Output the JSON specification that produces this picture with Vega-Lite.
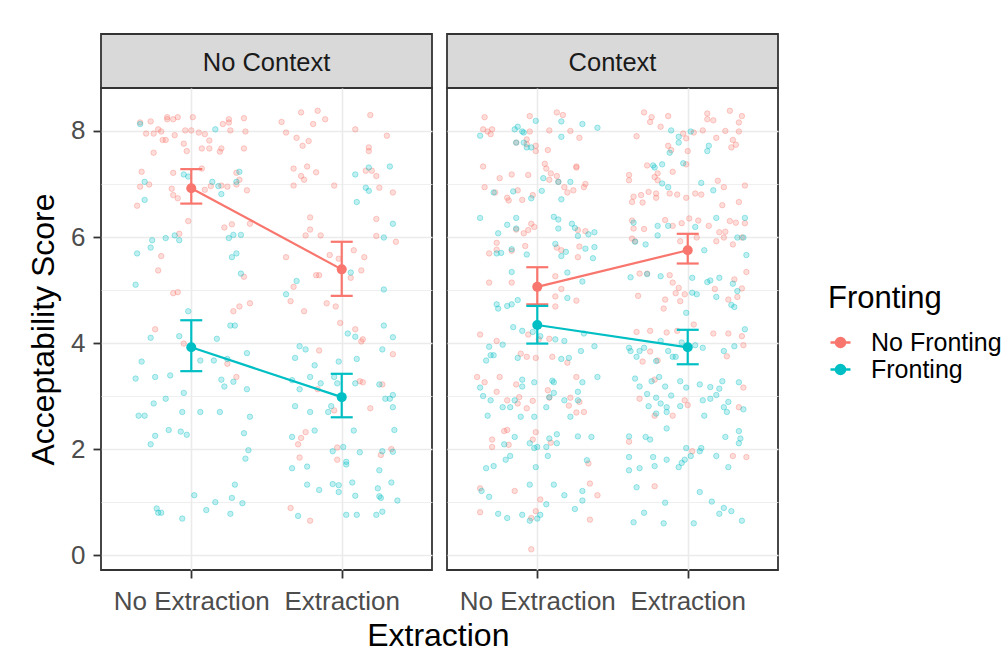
{
  "$schema": "https://vega.github.io/schema/vega-lite/v6.json",
  "padding": {"left": 26, "top": 33, "right": 0, "bottom": 0},
  "background": "white",
  "config": {
    "font": "Liberation Sans",
    "view": {"stroke": "#333333", "strokeWidth": 1.8},
    "axis": {
      "labelFont": "Liberation Sans", "titleFont": "Liberation Sans",
      "labelFontSize": 26, "titleFontSize": 32, "titleFontWeight": "normal",
      "titleColor": "#000000", "labelColor": "#4D4D4D",
      "tickColor": "#333333", "tickWidth": 1.8, "tickSize": 8,
      "domain": false, "gridColor": "#EBEBEB", "gridWidth": 1.6,
      "labelPadding": 8, "labelFlush": false, "labelOverlap": false
    },
    "legend": {"labelFont": "Liberation Sans", "titleFont": "Liberation Sans"},
    "title": {"font": "Liberation Sans"}
  },
  "title": {"text": "Extraction", "orient": "bottom", "anchor": "middle", "fontSize": 32, "fontWeight": "normal", "color": "#000000", "offset": 6, "dx": -76},
  "datasets": {
    "summary": [
      {"context": "No Context", "fronting": "No Fronting", "pos": 1, "mean": 6.92, "lo": 6.63, "hi": 7.28},
      {"context": "No Context", "fronting": "No Fronting", "pos": 2, "mean": 5.39, "lo": 4.89, "hi": 5.91},
      {"context": "No Context", "fronting": "Fronting", "pos": 1, "mean": 3.92, "lo": 3.47, "hi": 4.43},
      {"context": "No Context", "fronting": "Fronting", "pos": 2, "mean": 2.98, "lo": 2.6, "hi": 3.42},
      {"context": "Context", "fronting": "No Fronting", "pos": 1, "mean": 5.06, "lo": 4.73, "hi": 5.43},
      {"context": "Context", "fronting": "No Fronting", "pos": 2, "mean": 5.75, "lo": 5.5, "hi": 6.06},
      {"context": "Context", "fronting": "Fronting", "pos": 1, "mean": 4.34, "lo": 3.99, "hi": 4.7},
      {"context": "Context", "fronting": "Fronting", "pos": 2, "mean": 3.92, "lo": 3.6, "hi": 4.25}
    ],
    "nc_nf": [
      {"pos":0.66,"score":8.16},{"pos":0.73,"score":8.18},{"pos":0.84,"score":8.26},{"pos":0.84,"score":8.22},{"pos":0.88,"score":8.22},{"pos":0.91,"score":8.26},{"pos":1.01,"score":8.26},{"pos":1.25,"score":8.22},{"pos":1.25,"score":8.16},{"pos":1.21,"score":8.13},{"pos":1.35,"score":8.24},{"pos":1.6,"score":8.17},{"pos":1.73,"score":8.35},{"pos":1.81,"score":8.13},{"pos":1.84,"score":8.38},{"pos":1.89,"score":8.22},{"pos":2.19,"score":8.3},{"pos":2.09,"score":8.03},{"pos":2.3,"score":7.91},{"pos":0.7,"score":7.95},{"pos":0.75,"score":7.95},{"pos":0.78,"score":8.03},{"pos":0.8,"score":7.99},{"pos":0.89,"score":7.92},{"pos":0.96,"score":8.01},{"pos":1.0,"score":8.01},{"pos":1.05,"score":7.97},{"pos":1.09,"score":7.94},{"pos":1.26,"score":8.01},{"pos":1.36,"score":7.99},{"pos":1.63,"score":7.97},{"pos":1.7,"score":7.87},{"pos":1.78,"score":7.81},{"pos":1.74,"score":7.72},{"pos":2.18,"score":7.69},{"pos":2.18,"score":7.62},{"pos":0.81,"score":7.83},{"pos":0.83,"score":7.83},{"pos":0.95,"score":7.76},{"pos":0.97,"score":7.62},{"pos":1.07,"score":7.67},{"pos":1.12,"score":7.82},{"pos":1.12,"score":7.67},{"pos":1.19,"score":7.61},{"pos":1.2,"score":7.67},{"pos":1.35,"score":7.67},{"pos":0.75,"score":7.59},{"pos":0.67,"score":7.23},{"pos":0.88,"score":7.21},{"pos":1.07,"score":7.29},{"pos":1.3,"score":7.21},{"pos":1.32,"score":7.08},{"pos":1.68,"score":7.29},{"pos":1.73,"score":7.15},{"pos":1.75,"score":7.08},{"pos":1.83,"score":7.22},{"pos":1.77,"score":7.33},{"pos":2.16,"score":7.25},{"pos":2.2,"score":7.25},{"pos":2.23,"score":7.15},{"pos":0.66,"score":6.95},{"pos":0.72,"score":6.99},{"pos":0.87,"score":6.91},{"pos":0.88,"score":6.79},{"pos":0.91,"score":6.73},{"pos":1.09,"score":6.89},{"pos":1.13,"score":6.96},{"pos":1.2,"score":6.97},{"pos":1.24,"score":6.95},{"pos":1.3,"score":6.99},{"pos":1.37,"score":6.88},{"pos":1.68,"score":6.97},{"pos":1.95,"score":6.97},{"pos":2.25,"score":6.93},{"pos":2.34,"score":6.84},{"pos":0.64,"score":6.59},{"pos":0.98,"score":6.3},{"pos":1.22,"score":6.18},{"pos":1.27,"score":6.24},{"pos":1.39,"score":6.25},{"pos":1.79,"score":6.37},{"pos":1.79,"score":6.14},{"pos":1.76,"score":6.03},{"pos":1.86,"score":6.03},{"pos":2.23,"score":6.34},{"pos":2.23,"score":6.02},{"pos":2.36,"score":5.91},{"pos":2.08,"score":5.75},{"pos":2.15,"score":5.62},{"pos":1.98,"score":5.59},{"pos":1.92,"score":5.66},{"pos":1.63,"score":5.62},{"pos":2.13,"score":5.37},{"pos":2.06,"score":5.23},{"pos":1.83,"score":5.28},{"pos":1.85,"score":5.28},{"pos":1.35,"score":5.25},{"pos":0.8,"score":5.64},{"pos":0.78,"score":5.37},{"pos":0.92,"score":6.06},{"pos":0.88,"score":4.94},{"pos":0.91,"score":4.96},{"pos":1.39,"score":4.75},{"pos":1.32,"score":4.69},{"pos":1.28,"score":4.6},{"pos":1.66,"score":4.79},{"pos":1.68,"score":5.06},{"pos":1.75,"score":4.6},{"pos":1.9,"score":4.75},{"pos":1.96,"score":4.69},{"pos":1.99,"score":4.38},{"pos":2.09,"score":4.26},{"pos":2.14,"score":4.07},{"pos":2.13,"score":4.03},{"pos":0.76,"score":4.26},{"pos":0.95,"score":3.99},{"pos":1.85,"score":3.86},
      {"pos":1.24,"score":3.61},{"pos":1.3,"score":3.36},{"pos":2.34,"score":3.79},{"pos":1.84,"score":3.13},{"pos":2.12,"score":3.28},{"pos":2.14,"score":3.26},{"pos":2.27,"score":3.22},{"pos":2.19,"score":2.77},{"pos":1.95,"score":2.73},{"pos":1.76,"score":2.32},{"pos":1.73,"score":2.21},{"pos":1.71,"score":2.09},{"pos":1.97,"score":2.03},{"pos":1.72,"score":1.84},{"pos":1.97,"score":1.8},{"pos":2.33,"score":2.0},{"pos":2.26,"score":1.89},{"pos":1.66,"score":0.89},{"pos":1.79,"score":0.65}
    ],
    "nc_f": [
      {"pos":0.66,"score":8.13},{"pos":1.16,"score":8.03},{"pos":0.95,"score":7.18},{"pos":0.98,"score":7.14},{"pos":1.14,"score":7.04},{"pos":1.18,"score":6.96},{"pos":1.2,"score":6.81},{"pos":1.3,"score":7.04},{"pos":1.32,"score":7.23},{"pos":0.69,"score":7.04},{"pos":0.69,"score":6.7},{"pos":2.09,"score":7.18},{"pos":2.18,"score":7.31},{"pos":2.32,"score":7.33},{"pos":2.16,"score":6.93},{"pos":2.18,"score":6.87},{"pos":2.1,"score":6.66},{"pos":2.34,"score":6.25},{"pos":2.28,"score":5.99},{"pos":0.74,"score":5.94},{"pos":0.73,"score":5.8},{"pos":0.83,"score":5.98},{"pos":0.89,"score":6.03},{"pos":0.92,"score":5.94},{"pos":0.64,"score":5.69},{"pos":1.25,"score":5.98},{"pos":1.28,"score":6.04},{"pos":1.33,"score":6.04},{"pos":1.3,"score":5.69},{"pos":1.27,"score":5.62},{"pos":1.33,"score":5.31},{"pos":0.63,"score":5.1},{"pos":1.7,"score":5.17},{"pos":1.63,"score":4.92},{"pos":2.06,"score":5.33},{"pos":2.28,"score":5.01},{"pos":0.98,"score":4.6},{"pos":1.26,"score":4.33},{"pos":1.29,"score":4.33},{"pos":0.73,"score":4.1},{"pos":0.92,"score":4.13},{"pos":1.17,"score":4.08},{"pos":2.04,"score":4.18},{"pos":2.09,"score":4.12},{"pos":2.28,"score":4.33},{"pos":2.34,"score":4.11},{"pos":1.72,"score":3.94},{"pos":1.76,"score":3.88},{"pos":2.27,"score":3.88},
      {"pos":0.67,"score":3.65},{"pos":1.06,"score":3.67},{"pos":1.15,"score":3.67},{"pos":1.24,"score":3.7},{"pos":1.37,"score":3.81},{"pos":0.63,"score":3.33},{"pos":0.76,"score":3.36},{"pos":0.86,"score":3.39},{"pos":1.2,"score":3.31},{"pos":1.22,"score":3.18},{"pos":1.28,"score":3.27},{"pos":1.37,"score":3.13},{"pos":0.95,"score":3.06},{"pos":0.83,"score":2.95},{"pos":0.75,"score":2.86},{"pos":0.65,"score":2.63},{"pos":0.69,"score":2.63},{"pos":0.94,"score":2.7},{"pos":1.06,"score":2.7},{"pos":1.19,"score":2.7},{"pos":1.39,"score":2.61},{"pos":0.85,"score":2.36},{"pos":0.93,"score":2.33},{"pos":0.97,"score":2.27},{"pos":0.76,"score":2.25},{"pos":0.73,"score":2.09},{"pos":1.35,"score":2.3},{"pos":1.38,"score":1.98},{"pos":1.36,"score":1.82},{"pos":1.29,"score":1.33},{"pos":1.02,"score":1.13},{"pos":1.27,"score":1.08},{"pos":1.16,"score":1.0},{"pos":1.34,"score":0.98},{"pos":1.1,"score":0.85},{"pos":0.77,"score":0.88},{"pos":0.78,"score":0.8},{"pos":0.8,"score":0.8},{"pos":0.94,"score":0.69},{"pos":1.26,"score":0.78},
      {"pos":1.69,"score":3.72},{"pos":1.82,"score":3.58},{"pos":1.98,"score":3.65},{"pos":2.1,"score":3.7},{"pos":1.79,"score":3.36},{"pos":1.86,"score":3.24},{"pos":1.67,"score":3.3},{"pos":1.72,"score":3.13},{"pos":1.95,"score":3.36},{"pos":1.97,"score":3.24},{"pos":2.09,"score":3.24},{"pos":2.25,"score":3.22},{"pos":2.29,"score":2.95},{"pos":2.32,"score":2.95},{"pos":2.34,"score":3.02},{"pos":2.34,"score":2.79},{"pos":1.69,"score":2.81},{"pos":1.79,"score":2.7},{"pos":1.91,"score":2.7},{"pos":1.93,"score":2.81},{"pos":1.82,"score":2.35},{"pos":2.08,"score":2.35},{"pos":2.35,"score":2.36},{"pos":1.67,"score":2.23},{"pos":2.01,"score":2.04},{"pos":1.94,"score":1.96},{"pos":2.12,"score":1.94},{"pos":2.27,"score":1.96},{"pos":2.34,"score":1.95},{"pos":2.03,"score":1.76},{"pos":2.03,"score":1.71},{"pos":1.77,"score":1.67},{"pos":1.67,"score":1.64},{"pos":2.25,"score":1.6},{"pos":1.77,"score":1.33},{"pos":1.85,"score":1.23},{"pos":1.94,"score":1.34},{"pos":1.98,"score":1.32},{"pos":1.98,"score":1.19},{"pos":2.07,"score":1.37},{"pos":2.24,"score":1.26},{"pos":2.33,"score":1.37},{"pos":2.09,"score":1.12},{"pos":2.25,"score":1.11},{"pos":2.26,"score":1.08},{"pos":2.37,"score":1.03},{"pos":1.71,"score":0.74},{"pos":2.03,"score":0.76},{"pos":2.1,"score":0.76},{"pos":2.23,"score":0.76},{"pos":2.27,"score":0.82}
    ],
    "c_nf": [
      {"pos":0.65,"score":8.26},{"pos":0.95,"score":8.28},{"pos":1.13,"score":8.35},{"pos":1.17,"score":8.3},{"pos":1.71,"score":8.35},{"pos":1.76,"score":8.26},{"pos":1.87,"score":8.28},{"pos":1.75,"score":8.17},{"pos":1.82,"score":8.08},{"pos":2.13,"score":8.33},{"pos":2.13,"score":8.22},{"pos":2.28,"score":8.38},{"pos":2.36,"score":8.28},{"pos":2.17,"score":8.2},{"pos":2.34,"score":8.16},{"pos":0.64,"score":8.03},{"pos":0.67,"score":7.99},{"pos":0.7,"score":8.03},{"pos":0.69,"score":7.94},{"pos":1.08,"score":8.01},{"pos":1.22,"score":8.0},{"pos":1.28,"score":7.87},{"pos":0.95,"score":7.99},{"pos":0.93,"score":7.84},{"pos":0.86,"score":7.78},{"pos":0.99,"score":7.72},{"pos":0.99,"score":7.62},{"pos":1.07,"score":7.64},{"pos":1.66,"score":7.9},{"pos":1.97,"score":7.95},{"pos":1.99,"score":7.86},{"pos":2.04,"score":7.97},{"pos":2.1,"score":8.01},{"pos":2.19,"score":7.87},{"pos":2.25,"score":8.0},{"pos":2.34,"score":7.99},{"pos":2.3,"score":7.83},{"pos":2.32,"score":7.74},{"pos":2.29,"score":7.69},{"pos":1.87,"score":7.72},{"pos":1.89,"score":7.64},{"pos":2.0,"score":7.62},{"pos":0.93,"score":7.75},{"pos":0.64,"score":7.33},{"pos":0.75,"score":7.11},{"pos":0.83,"score":7.18},{"pos":0.94,"score":7.17},{"pos":1.05,"score":7.38},{"pos":1.06,"score":7.29},{"pos":1.09,"score":7.2},{"pos":1.13,"score":7.15},{"pos":1.14,"score":7.04},{"pos":1.08,"score":7.08},{"pos":1.26,"score":7.33},{"pos":1.26,"score":7.31},{"pos":1.18,"score":6.94},{"pos":1.2,"score":6.84},{"pos":1.24,"score":6.88},{"pos":1.31,"score":6.94},{"pos":1.32,"score":7.0},{"pos":0.65,"score":6.94},{"pos":0.72,"score":6.84},{"pos":0.8,"score":6.74},{"pos":0.81,"score":6.69},{"pos":0.87,"score":6.88},{"pos":0.9,"score":6.7},{"pos":0.97,"score":6.79},{"pos":1.73,"score":7.35},{"pos":1.8,"score":7.2},{"pos":1.78,"score":7.13},{"pos":1.8,"score":7.07},{"pos":1.9,"score":7.23},{"pos":1.99,"score":7.37},{"pos":1.61,"score":7.17},{"pos":1.61,"score":7.07},{"pos":1.74,"score":6.85},{"pos":1.69,"score":6.79},{"pos":1.64,"score":6.76},{"pos":1.63,"score":6.66},{"pos":1.7,"score":6.65},{"pos":1.79,"score":6.82},{"pos":1.79,"score":6.74},{"pos":1.88,"score":6.82},{"pos":1.93,"score":6.8},{"pos":1.99,"score":6.74},{"pos":2.05,"score":6.82},{"pos":2.09,"score":6.8},{"pos":2.2,"score":7.06},{"pos":2.24,"score":6.94},{"pos":2.38,"score":6.97},{"pos":2.23,"score":6.6},{"pos":2.34,"score":6.66},{"pos":0.96,"score":6.25},{"pos":0.98,"score":6.19},{"pos":0.86,"score":6.14},{"pos":0.91,"score":6.07},{"pos":0.94,"score":6.13},{"pos":1.32,"score":6.11},{"pos":1.27,"score":6.13},{"pos":1.13,"score":5.8},{"pos":1.16,"score":5.75},{"pos":1.28,"score":5.82},{"pos":1.27,"score":5.62},{"pos":0.73,"score":5.89},{"pos":0.73,"score":5.76},{"pos":0.83,"score":5.74},{"pos":0.68,"score":5.69},{"pos":0.92,"score":5.83},{"pos":1.63,"score":6.31},{"pos":1.64,"score":6.16},{"pos":1.63,"score":5.97},{"pos":1.65,"score":5.92},{"pos":1.71,"score":6.15},{"pos":1.85,"score":6.32},{"pos":1.9,"score":6.21},{"pos":1.96,"score":6.26},{"pos":2.01,"score":6.35},{"pos":2.07,"score":6.31},{"pos":2.14,"score":6.21},{"pos":2.21,"score":6.09},{"pos":2.25,"score":6.1},{"pos":2.28,"score":6.3},{"pos":2.32,"score":6.27},{"pos":2.38,"score":6.26},{"pos":2.24,"score":5.99},{"pos":2.3,"score":5.86},{"pos":2.36,"score":5.99},{"pos":2.19,"score":5.92},{"pos":2.06,"score":5.99},{"pos":1.95,"score":5.92},{"pos":0.68,"score":5.14},{"pos":0.83,"score":5.14},{"pos":1.12,"score":5.26},{"pos":1.16,"score":5.02},{"pos":1.12,"score":4.88},{"pos":1.12,"score":4.69},{"pos":1.26,"score":4.8},{"pos":1.68,"score":5.31},{"pos":1.73,"score":5.31},{"pos":1.88,"score":5.28},{"pos":1.9,"score":5.14},{"pos":1.94,"score":5.04},{"pos":1.92,"score":4.94},{"pos":1.95,"score":4.79},{"pos":1.98,"score":4.92},{"pos":1.67,"score":4.89},{"pos":1.85,"score":4.82},{"pos":1.84,"score":4.65},{"pos":2.18,"score":5.02},{"pos":2.27,"score":4.82},{"pos":2.31,"score":5.2},{"pos":2.36,"score":5.03},{"pos":2.39,"score":5.34},{"pos":2.33,"score":4.87},{"pos":0.62,"score":4.16},{"pos":0.94,"score":4.16},{"pos":0.73,"score":4.04},{"pos":1.01,"score":4.07},{"pos":1.08,"score":4.08},{"pos":1.75,"score":4.23},{"pos":1.66,"score":4.21},{"pos":1.86,"score":4.2},{"pos":1.93,"score":4.23},{"pos":2.04,"score":4.35},{"pos":2.17,"score":4.18},{"pos":2.27,"score":4.18},{"pos":2.36,"score":4.13},
      {"pos":0.89,"score":3.8},{"pos":0.93,"score":3.74},{"pos":0.99,"score":3.72},{"pos":1.1,"score":3.74},{"pos":1.2,"score":3.63},{"pos":1.7,"score":3.65},{"pos":1.75,"score":3.84},{"pos":1.8,"score":3.67},{"pos":2.26,"score":3.75},{"pos":2.37,"score":3.96},{"pos":0.6,"score":3.36},{"pos":0.65,"score":3.26},{"pos":0.75,"score":3.36},{"pos":0.73,"score":3.08},{"pos":0.86,"score":3.22},{"pos":0.88,"score":2.98},{"pos":0.8,"score":2.92},{"pos":0.87,"score":2.86},{"pos":0.97,"score":2.91},{"pos":0.93,"score":2.77},{"pos":1.07,"score":3.11},{"pos":1.08,"score":2.97},{"pos":1.21,"score":2.82},{"pos":1.22,"score":2.97},{"pos":1.28,"score":2.89},{"pos":1.26,"score":3.36},{"pos":1.26,"score":2.69},{"pos":1.31,"score":2.7},{"pos":1.68,"score":2.95},{"pos":1.78,"score":3.31},{"pos":1.98,"score":2.92},{"pos":2.0,"score":2.83},{"pos":1.78,"score":2.63},{"pos":1.9,"score":2.63},{"pos":2.37,"score":3.16},{"pos":2.34,"score":2.79},{"pos":0.78,"score":2.34},{"pos":0.8,"score":2.36},{"pos":0.7,"score":2.18},{"pos":0.7,"score":2.04},{"pos":0.81,"score":2.08},{"pos":0.99,"score":2.32},{"pos":0.97,"score":2.18},{"pos":1.09,"score":2.12},{"pos":1.61,"score":2.14},{"pos":2.03,"score":1.96},{"pos":2.3,"score":1.87},{"pos":2.39,"score":1.85},{"pos":1.34,"score":1.73},{"pos":0.62,"score":1.26},{"pos":0.85,"score":1.21},{"pos":1.02,"score":1.05},{"pos":1.35,"score":1.35},{"pos":1.4,"score":1.13},{"pos":1.78,"score":1.3},{"pos":0.62,"score":0.81},{"pos":0.99,"score":0.83},{"pos":0.96,"score":0.7},{"pos":1.35,"score":0.67},{"pos":0.96,"score":0.11}
    ],
    "c_f": [
      {"pos":0.62,"score":7.91},{"pos":0.85,"score":8.03},{"pos":0.87,"score":8.08},{"pos":0.9,"score":7.99},{"pos":0.91,"score":7.97},{"pos":0.86,"score":7.78},{"pos":0.91,"score":7.78},{"pos":0.93,"score":7.69},{"pos":0.96,"score":7.69},{"pos":0.99,"score":8.19},{"pos":1.16,"score":8.18},{"pos":1.3,"score":8.13},{"pos":1.4,"score":8.06},{"pos":1.16,"score":7.89},{"pos":1.89,"score":8.01},{"pos":1.94,"score":7.89},{"pos":1.94,"score":7.78},{"pos":1.88,"score":7.59},{"pos":1.97,"score":7.39},{"pos":2.02,"score":7.99},{"pos":2.14,"score":7.72},{"pos":2.13,"score":7.62},{"pos":1.77,"score":7.35},{"pos":1.78,"score":7.31},{"pos":1.83,"score":7.37},{"pos":1.04,"score":7.11},{"pos":1.14,"score":7.04},{"pos":1.22,"score":7.04},{"pos":1.16,"score":6.71},{"pos":0.71,"score":6.84},{"pos":0.84,"score":6.86},{"pos":0.96,"score":6.73},{"pos":1.03,"score":6.87},{"pos":1.87,"score":6.94},{"pos":1.83,"score":7.01},{"pos":2.09,"score":7.02},{"pos":2.17,"score":6.88},{"pos":0.62,"score":6.36},{"pos":0.86,"score":6.36},{"pos":0.8,"score":6.23},{"pos":0.86,"score":6.16},{"pos":1.11,"score":6.38},{"pos":1.14,"score":6.33},{"pos":1.14,"score":6.16},{"pos":1.23,"score":6.25},{"pos":1.25,"score":6.17},{"pos":1.27,"score":6.02},{"pos":1.34,"score":6.05},{"pos":1.38,"score":6.09},{"pos":0.74,"score":6.07},{"pos":0.73,"score":5.69},{"pos":0.76,"score":5.7},{"pos":0.83,"score":5.77},{"pos":0.93,"score":5.67},{"pos":1.12,"score":5.87},{"pos":1.19,"score":5.72},{"pos":1.16,"score":5.64},{"pos":1.32,"score":5.78},{"pos":1.38,"score":5.81},{"pos":1.37,"score":5.6},{"pos":1.64,"score":6.27},{"pos":1.8,"score":6.21},{"pos":1.8,"score":6.03},{"pos":1.87,"score":6.21},{"pos":2.05,"score":6.19},{"pos":2.19,"score":6.36},{"pos":2.33,"score":5.99},{"pos":2.37,"score":5.99},{"pos":2.38,"score":6.36},{"pos":2.39,"score":5.66},{"pos":2.11,"score":5.75},{"pos":1.65,"score":5.91},{"pos":1.72,"score":5.86},{"pos":0.83,"score":5.34},{"pos":1.2,"score":5.33},{"pos":1.3,"score":5.16},{"pos":1.62,"score":5.24},{"pos":1.73,"score":5.3},{"pos":1.82,"score":5.26},{"pos":2.03,"score":5.23},{"pos":2.13,"score":5.15},{"pos":2.15,"score":5.18},{"pos":2.21,"score":5.23},{"pos":2.3,"score":5.12},{"pos":2.33,"score":4.98},{"pos":2.06,"score":4.92},{"pos":2.03,"score":4.95},{"pos":1.99,"score":4.57},{"pos":2.19,"score":4.87},{"pos":2.29,"score":4.72},{"pos":2.31,"score":4.68},{"pos":0.73,"score":4.73},{"pos":0.74,"score":4.65},{"pos":0.8,"score":4.7},{"pos":0.83,"score":4.73},{"pos":0.87,"score":4.81},{"pos":1.2,"score":4.85},{"pos":0.84,"score":4.3},{"pos":0.9,"score":4.23},{"pos":0.97,"score":4.21},{"pos":1.02,"score":4.13},{"pos":1.12,"score":4.07},{"pos":1.18,"score":4.04},{"pos":1.31,"score":4.18},{"pos":0.68,"score":3.93},{"pos":0.77,"score":3.97},{"pos":1.61,"score":3.91},{"pos":1.71,"score":3.91},{"pos":1.82,"score":4.04},{"pos":1.96,"score":4.01},{"pos":2.1,"score":3.91},{"pos":2.05,"score":3.96},{"pos":2.38,"score":4.26},{"pos":2.31,"score":3.94},
      {"pos":0.69,"score":3.77},{"pos":0.71,"score":3.77},{"pos":0.66,"score":3.67},{"pos":0.87,"score":3.72},{"pos":1.29,"score":3.85},{"pos":1.38,"score":3.94},{"pos":1.16,"score":3.7},{"pos":1.21,"score":3.72},{"pos":1.62,"score":3.85},{"pos":1.66,"score":3.74},{"pos":1.68,"score":3.85},{"pos":1.79,"score":3.66},{"pos":1.87,"score":3.85},{"pos":1.9,"score":3.74},{"pos":1.92,"score":3.74},{"pos":2.24,"score":3.85},{"pos":0.62,"score":3.16},{"pos":0.64,"score":3.0},{"pos":0.69,"score":2.92},{"pos":0.9,"score":3.31},{"pos":0.9,"score":3.18},{"pos":0.98,"score":3.26},{"pos":1.1,"score":3.29},{"pos":1.11,"score":3.26},{"pos":1.11,"score":3.06},{"pos":1.08,"score":2.98},{"pos":1.18,"score":2.92},{"pos":1.27,"score":3.08},{"pos":1.27,"score":2.92},{"pos":1.3,"score":3.26},{"pos":1.4,"score":3.36},{"pos":0.77,"score":2.79},{"pos":0.82,"score":2.79},{"pos":0.85,"score":2.92},{"pos":0.67,"score":2.63},{"pos":0.89,"score":2.61},{"pos":0.98,"score":2.61},{"pos":1.06,"score":2.79},{"pos":1.22,"score":2.61},{"pos":1.65,"score":3.33},{"pos":1.68,"score":3.18},{"pos":1.76,"score":3.28},{"pos":1.81,"score":3.36},{"pos":1.73,"score":3.04},{"pos":1.79,"score":2.97},{"pos":1.85,"score":3.18},{"pos":1.89,"score":3.01},{"pos":1.95,"score":3.28},{"pos":1.99,"score":3.16},{"pos":2.08,"score":3.22},{"pos":2.15,"score":3.17},{"pos":2.21,"score":3.14},{"pos":2.23,"score":3.28},{"pos":2.34,"score":3.26},{"pos":2.19,"score":3.02},{"pos":2.1,"score":2.92},{"pos":2.15,"score":2.95},{"pos":2.27,"score":2.89},{"pos":2.24,"score":2.79},{"pos":2.26,"score":2.7},{"pos":2.37,"score":2.75},{"pos":1.74,"score":2.81},{"pos":1.82,"score":2.86},{"pos":1.86,"score":2.79},{"pos":1.86,"score":2.7},{"pos":1.79,"score":2.67},{"pos":1.95,"score":2.81},{"pos":2.11,"score":2.63},{"pos":1.86,"score":2.39},{"pos":0.78,"score":2.09},{"pos":0.85,"score":2.23},{"pos":0.95,"score":2.11},{"pos":1.0,"score":2.04},{"pos":0.98,"score":2.02},{"pos":1.08,"score":2.2},{"pos":1.06,"score":2.04},{"pos":1.13,"score":2.28},{"pos":1.13,"score":2.11},{"pos":1.27,"score":2.24},{"pos":1.36,"score":2.23},{"pos":1.61,"score":2.24},{"pos":1.72,"score":2.23},{"pos":1.75,"score":2.18},{"pos":1.99,"score":2.02},{"pos":2.09,"score":2.02},{"pos":2.08,"score":1.96},{"pos":2.25,"score":2.23},{"pos":2.34,"score":2.34},{"pos":2.35,"score":2.2},{"pos":2.34,"score":2.11},{"pos":0.66,"score":1.64},{"pos":0.71,"score":1.68},{"pos":0.79,"score":1.8},{"pos":0.82,"score":1.87},{"pos":0.99,"score":1.66},{"pos":1.07,"score":1.87},{"pos":1.33,"score":1.79},{"pos":1.61,"score":1.85},{"pos":1.61,"score":1.6},{"pos":1.68,"score":1.64},{"pos":1.77,"score":1.85},{"pos":1.78,"score":1.68},{"pos":1.86,"score":1.8},{"pos":1.94,"score":1.66},{"pos":1.96,"score":1.74},{"pos":1.98,"score":1.8},{"pos":2.02,"score":1.87},{"pos":2.19,"score":1.87},{"pos":2.27,"score":1.66},{"pos":0.63,"score":1.21},{"pos":0.68,"score":1.1},{"pos":0.95,"score":1.33},{"pos":1.11,"score":1.33},{"pos":1.18,"score":1.13},{"pos":1.3,"score":1.21},{"pos":1.3,"score":1.03},{"pos":1.25,"score":0.87},{"pos":1.06,"score":0.96},{"pos":0.74,"score":0.78},{"pos":0.8,"score":0.7},{"pos":0.9,"score":0.76},{"pos":0.95,"score":0.65},{"pos":1.0,"score":0.69},{"pos":1.02,"score":0.76},{"pos":1.66,"score":1.28},{"pos":1.85,"score":0.99},{"pos":1.71,"score":0.8},{"pos":1.64,"score":0.62},{"pos":1.84,"score":0.6},{"pos":2.04,"score":0.6},{"pos":2.08,"score":1.19},{"pos":2.16,"score":1.01},{"pos":2.21,"score":0.78},{"pos":2.24,"score":0.89},{"pos":2.29,"score":0.83},{"pos":2.36,"score":0.65}
    ]
  },
  "spacing": 13,
  "resolve": {"scale": {"color": "shared"}},
  "hconcat": [
    {
      "spacing": 0,
      "bounds": "flush",
      "vconcat": [
        {
          "width": 331, "height": 54,
          "view": {"fill": "#D9D9D9", "stroke": "#333333", "strokeWidth": 1.8},
          "data": {"values": [{"context": "No Context"}]},
          "mark": {"type": "text", "fontSize": 25.5, "color": "#1A1A1A", "baseline": "middle", "align": "center", "dy": 2, "font": "Liberation Sans"},
          "encoding": {"text": {"field": "context"}}
        },
        {
          "width": 331, "height": 482,
          "encoding": {
            "x": {"field": "pos", "type": "quantitative", "title": null,
              "scale": {"domain": [0.4, 2.6], "nice": false, "zero": false},
              "axis": {"values": [1, 2], "title": null, "labelExpr": "datum.value == 1 ? 'No Extraction' : 'Extraction'", "labelPadding": 10}}
          },
          "layer": [
            {
              "data": {"name": "nc_nf"},
              "mark": {"type": "circle", "size": 30, "opacity": 1, "fill": "#F8766D", "stroke": "#F8766D", "fillOpacity": 0.25, "strokeOpacity": 0.34, "strokeWidth": 1},
              "encoding": {
                "y": {"field": "score", "type": "quantitative",
                  "scale": {"domain": [-0.28, 8.81], "nice": false, "zero": false},
                  "axis": {"title": "Acceptability Score", "values": [0, 1, 2, 3, 4, 5, 6, 7, 8], "format": "d", "titlePadding": 10,
                    "labelExpr": "datum.value % 2 == 0 ? datum.label : ''",
                    "tickOpacity": {"condition": {"test": "datum.value % 2 == 0", "value": 1}, "value": 0},
                    "gridWidth": {"condition": {"test": "datum.value % 2 == 0", "value": 1.6}, "value": 0.8}}}
              }
            },
            {
              "data": {"name": "nc_f"},
              "mark": {"type": "circle", "size": 30, "opacity": 1, "fill": "#00BFC4", "stroke": "#00BFC4", "fillOpacity": 0.25, "strokeOpacity": 0.34, "strokeWidth": 1},
              "encoding": {"y": {"field": "score", "type": "quantitative"}}
            },
            {
              "data": {"name": "summary"},
              "transform": [{"filter": "datum.context == 'No Context'"}],
              "encoding": {
                "color": {"field": "fronting", "type": "nominal",
                  "scale": {"domain": ["No Fronting", "Fronting"], "range": ["#F8766D", "#00BFC4"]},
                  "legend": {"title": "Fronting", "orient": "none", "legendX": 727, "legendY": 250,
                    "titleFontSize": 31, "titleFontWeight": "normal", "titleColor": "#000000", "titlePadding": 15,
                    "labelFontSize": 25, "labelColor": "#000000", "labelOffset": 18, "rowPadding": 1,
                    "symbolType": "M-1,0H1M-0.45,0A0.45,0.45,0,1,0,0.45,0A0.45,0.45,0,1,0,-0.45,0Z",
                    "symbolSize": 400, "symbolStrokeWidth": 2.5, "symbolOpacity": 1}}
              },
              "layer": [
                {"mark": {"type": "line", "strokeWidth": 2.2}, "encoding": {"y": {"field": "mean", "type": "quantitative"}}},
                {"mark": {"type": "rule", "strokeWidth": 2.2}, "encoding": {"y": {"field": "lo", "type": "quantitative"}, "y2": {"field": "hi"}}},
                {"mark": {"type": "tick", "orient": "horizontal", "size": 22, "thickness": 2.2, "opacity": 1}, "encoding": {"y": {"field": "lo", "type": "quantitative"}}},
                {"mark": {"type": "tick", "orient": "horizontal", "size": 22, "thickness": 2.2, "opacity": 1}, "encoding": {"y": {"field": "hi", "type": "quantitative"}}},
                {"mark": {"type": "circle", "size": 100, "opacity": 1}, "encoding": {"y": {"field": "mean", "type": "quantitative"}}}
              ]
            }
          ]
        }
      ]
    },
    {
      "spacing": 0,
      "bounds": "flush",
      "vconcat": [
        {
          "width": 331, "height": 54,
          "view": {"fill": "#D9D9D9", "stroke": "#333333", "strokeWidth": 1.8},
          "data": {"values": [{"context": "Context"}]},
          "mark": {"type": "text", "fontSize": 25.5, "color": "#1A1A1A", "baseline": "middle", "align": "center", "dy": 2, "font": "Liberation Sans"},
          "encoding": {"text": {"field": "context"}}
        },
        {
          "width": 331, "height": 482,
          "encoding": {
            "x": {"field": "pos", "type": "quantitative", "title": null,
              "scale": {"domain": [0.4, 2.6], "nice": false, "zero": false},
              "axis": {"values": [1, 2], "title": null, "labelExpr": "datum.value == 1 ? 'No Extraction' : 'Extraction'", "labelPadding": 10}}
          },
          "layer": [
            {
              "data": {"name": "c_nf"},
              "mark": {"type": "circle", "size": 30, "opacity": 1, "fill": "#F8766D", "stroke": "#F8766D", "fillOpacity": 0.25, "strokeOpacity": 0.34, "strokeWidth": 1},
              "encoding": {
                "y": {"field": "score", "type": "quantitative",
                  "scale": {"domain": [-0.28, 8.81], "nice": false, "zero": false},
                  "axis": {"values": [0, 1, 2, 3, 4, 5, 6, 7, 8], "labels": false, "ticks": false, "title": null,
                    "gridWidth": {"condition": {"test": "datum.value % 2 == 0", "value": 1.6}, "value": 0.8}}}
              }
            },
            {
              "data": {"name": "c_f"},
              "mark": {"type": "circle", "size": 30, "opacity": 1, "fill": "#00BFC4", "stroke": "#00BFC4", "fillOpacity": 0.25, "strokeOpacity": 0.34, "strokeWidth": 1},
              "encoding": {"y": {"field": "score", "type": "quantitative"}}
            },
            {
              "data": {"name": "summary"},
              "transform": [{"filter": "datum.context == 'Context'"}],
              "encoding": {
                "color": {"field": "fronting", "type": "nominal",
                  "scale": {"domain": ["No Fronting", "Fronting"], "range": ["#F8766D", "#00BFC4"]}}
              },
              "layer": [
                {"mark": {"type": "line", "strokeWidth": 2.2}, "encoding": {"y": {"field": "mean", "type": "quantitative"}}},
                {"mark": {"type": "rule", "strokeWidth": 2.2}, "encoding": {"y": {"field": "lo", "type": "quantitative"}, "y2": {"field": "hi"}}},
                {"mark": {"type": "tick", "orient": "horizontal", "size": 22, "thickness": 2.2, "opacity": 1}, "encoding": {"y": {"field": "lo", "type": "quantitative"}}},
                {"mark": {"type": "tick", "orient": "horizontal", "size": 22, "thickness": 2.2, "opacity": 1}, "encoding": {"y": {"field": "hi", "type": "quantitative"}}},
                {"mark": {"type": "circle", "size": 100, "opacity": 1}, "encoding": {"y": {"field": "mean", "type": "quantitative"}}}
              ]
            }
          ]
        }
      ]
    }
  ]
}
